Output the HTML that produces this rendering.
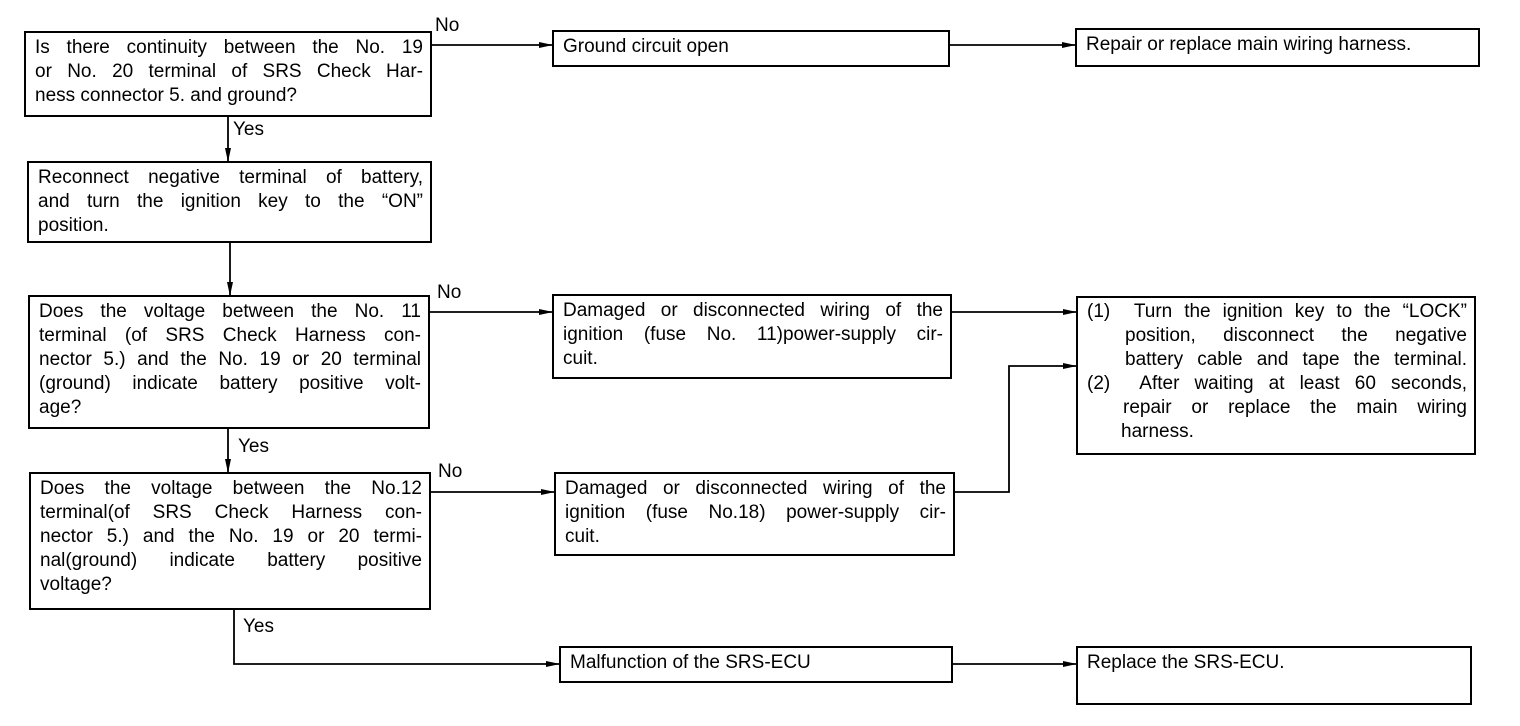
<!DOCTYPE html>
<html><head><meta charset="utf-8"><style>
body{margin:0;width:1520px;height:726px;background:#fff;position:relative;overflow:hidden;font-family:"Liberation Sans",Arial,sans-serif;color:#000}
.b{position:absolute;border:2px solid #000;box-sizing:border-box;font-size:19px;line-height:24px;padding:3px 7px 0 9px;white-space:nowrap}
.b div{text-align:justify;text-align-last:justify}
.b div.e{text-align-last:left}
.l{position:absolute;font-size:19px}
</style></head><body>
<svg width="1520" height="726" style="position:absolute;left:0;top:0">
<defs><marker id="a" markerWidth="14" markerHeight="8" refX="13" refY="4" orient="auto" markerUnits="userSpaceOnUse"><path d="M0,1 L14,4 L0,7 z" fill="#000"/></marker></defs>
<g stroke="#000" stroke-width="1.8" fill="none">
<line x1="432" y1="45" x2="552" y2="45" marker-end="url(#a)"/>
<line x1="950" y1="45" x2="1075" y2="45" marker-end="url(#a)"/>
<line x1="228" y1="116" x2="228" y2="161" marker-end="url(#a)"/>
<line x1="230" y1="242" x2="230" y2="295" marker-end="url(#a)"/>
<line x1="430" y1="312" x2="552" y2="312" marker-end="url(#a)"/>
<line x1="952" y1="312" x2="1076" y2="312" marker-end="url(#a)"/>
<line x1="228" y1="428" x2="228" y2="472" marker-end="url(#a)"/>
<line x1="431" y1="492" x2="554" y2="492" marker-end="url(#a)"/>
<polyline points="955,492 1009,492 1009,366 1076,366" marker-end="url(#a)"/>
<polyline points="234,609 234,664 559,664" marker-end="url(#a)"/>
<line x1="953" y1="664" x2="1076" y2="664" marker-end="url(#a)"/>
</g></svg>
<div class="b" style="left:24px;top:31px;width:408px;height:86px"><div>Is there continuity between the No. 19</div><div>or No. 20 terminal of SRS Check Har-</div><div class="e">ness connector 5. and ground?</div></div>
<div class="b" style="left:27px;top:161px;width:405px;height:82px"><div>Reconnect negative terminal of battery,</div><div>and turn the ignition key to the “ON”</div><div class="e">position.</div></div>
<div class="b" style="left:28px;top:295px;width:402px;height:134px"><div>Does the voltage between the No. 11</div><div>terminal (of SRS Check Harness con-</div><div>nector 5.) and the No. 19 or 20 terminal</div><div>(ground) indicate battery positive volt-</div><div class="e">age?</div></div>
<div class="b" style="left:29px;top:472px;width:402px;height:138px"><div>Does the voltage between the No.12</div><div>terminal(of SRS Check Harness con-</div><div>nector 5.) and the No. 19 or 20 termi-</div><div>nal(ground) indicate battery positive</div><div class="e">voltage?</div></div>
<div class="b" style="left:552px;top:30px;width:398px;height:37px"><div class="e">Ground circuit open</div></div>
<div class="b" style="left:1075px;top:28px;width:405px;height:39px"><div class="e">Repair or replace main wiring harness.</div></div>
<div class="b" style="left:552px;top:294px;width:400px;height:85px"><div>Damaged or disconnected wiring of the</div><div>ignition (fuse No. 11)power-supply cir-</div><div class="e">cuit.</div></div>
<div class="b" style="left:554px;top:472px;width:401px;height:84px"><div>Damaged or disconnected wiring of the</div><div>ignition (fuse No.18) power-supply cir-</div><div class="e">cuit.</div></div>
<div class="b" style="left:559px;top:646px;width:394px;height:37px"><div class="e">Malfunction of the SRS-ECU</div></div>
<div class="b" style="left:1076px;top:296px;width:400px;height:159px;padding-top:2px"><div>(1)&nbsp; Turn the ignition key to the “LOCK”</div><div style="padding-left:38px">position, disconnect the negative</div><div style="padding-left:38px">battery cable and tape the terminal.</div><div>(2)&nbsp; After waiting at least 60 seconds,</div><div style="padding-left:36px">repair or replace the main wiring</div><div class="e" style="padding-left:34px">harness.</div></div>
<div class="b" style="left:1076px;top:646px;width:396px;height:59px"><div class="e">Replace the SRS-ECU.</div></div>
<div class="l" style="left:435px;top:15px">No</div>
<div class="l" style="left:437px;top:282px">No</div>
<div class="l" style="left:438px;top:461px">No</div>
<div class="l" style="left:233px;top:119px">Yes</div>
<div class="l" style="left:238px;top:436px">Yes</div>
<div class="l" style="left:243px;top:616px">Yes</div>
</body></html>
